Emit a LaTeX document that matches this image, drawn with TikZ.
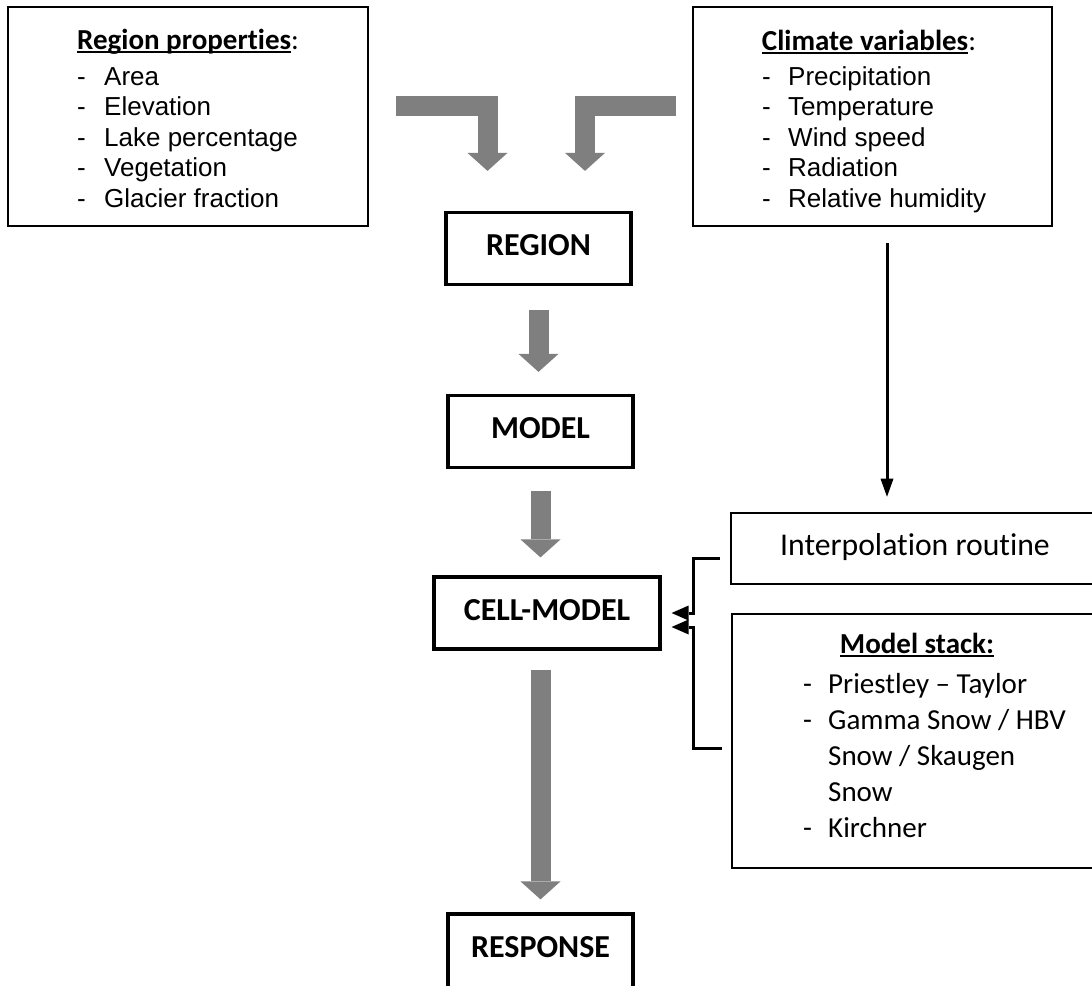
\documentclass[tikz,border=0pt]{standalone}
\usepackage{fontspec}
\setmainfont{Carlito}[Ligatures=NoCommon]
\newfontfamily\arialfont{Liberation Sans}
\usetikzlibrary{arrows.meta,calc}

% underline drawn as a rule under the word
\newcommand\ulword[1]{\setbox0=\hbox{#1}\rlap{\rule[-3.5pt]{\wd0}{2pt}}\box0}

\definecolor{arrowgray}{HTML}{7F7F7F}

\tikzset{
  listbox/.style={draw=black, line width=2pt, minimum width=360pt, minimum height=219pt, inner sep=0pt},
  stagebox/.style={draw=black, line width=3.2pt, minimum width=185pt, inner xsep=0pt, inner ysep=0pt,
    text height=43pt, text depth=29pt, font=\fontsize{32}{38}\selectfont\bfseries},
  sidebox/.style={draw=black, line width=2.6pt, minimum width=368pt, inner xsep=0pt, inner ysep=0pt},
  heading/.style={anchor=base, inner sep=0pt, font=\fontsize{29}{35}\selectfont},
  arialitem/.style={anchor=base west, inner sep=0pt, font=\fontsize{26}{30}\selectfont\arialfont},
  calitem/.style={anchor=base west, inner sep=0pt, font=\fontsize{29}{35}\selectfont},
  blockarrow/.style={draw=arrowgray, line width=20pt, line join=miter, line cap=butt,
    -{Triangle[width=40pt,length=18pt,line width=0pt]}},
  thinarrow/.style={draw=black, line width=3pt, line join=miter,
    -{Triangle[width=15pt,length=17pt,line width=0pt]}}
}

\begin{document}
\begin{tikzpicture}[x=1pt,y=-1pt]
  \path[use as bounding box] (0,0) rectangle (1092,985);
  \fill[white] (0,0) rectangle (1092,985);
  \clip (0,0) rectangle (1092,985);

  % input boxes
  \node[listbox] (props) at (188,116.5) {};
  \node[listbox, minimum width=359pt] (climate) at (872.5,116.5) {};

  \node[heading] (propshead) at (188,49) {\textbf{\ulword{Region properties}}:};
  \foreach \t [count=\i] in {Area, Elevation, Lake percentage, Vegetation, Glacier fraction} {
    \node[arialitem] (pdash\i) at (77, 54.5+30.5*\i) {-};
    \node[arialitem] (pitem\i) at (104, 54.5+30.5*\i) {\t};
  }

  \node[heading] (climhead) at (869,50) {\textbf{\ulword{Climate variables}}:};
  \foreach \t [count=\i] in {Precipitation, Temperature, Wind speed, Radiation, Relative humidity} {
    \node[arialitem] (cdash\i) at (762, 54.5+30.5*\i) {-};
    \node[arialitem] (citem\i) at (788, 54.5+30.5*\i) {\t};
  }

  % model chain
  \node[stagebox] (region) at (538.5,248.5) {REGION};
  \node[stagebox] (model) at (540.5,431.5) {MODEL};
  \node[stagebox, minimum width=226pt] (cell) at (547,613) {CELL-MODEL};
  \node[stagebox, text depth=45pt] (response) at (540.5,958) {RESPONSE};

  % side boxes
  \node[sidebox, text height=42pt, text depth=29pt, font=\fontsize{31.7}{38}\selectfont]
    (interp) at (915,548.5) {Interpolation routine};
  \node[sidebox, minimum height=254pt] (stack) at (916,741) {};

  \node[heading] (stackhead) at (917,653) {\textbf{\ulword{Model stack:}}};
  \node[calitem] (sdash1) at (803,693) {-};
  \node[calitem] (sitem1) at (828,693) {Priestley – Taylor};
  \node[calitem] (sdash2) at (803,729) {-};
  \node[calitem] (sitem2) at (828,729) {Gamma Snow / HBV};
  \node[calitem] (sitem3) at (828,765) {Snow / Skaugen};
  \node[calitem] (sitem4) at (828,801) {Snow};
  \node[calitem] (sdash5) at (803,837) {-};
  \node[calitem] (sitem5) at (828,837) {Kirchner};

  % connector end points
  \coordinate (g1s) at ($(props.east)+(27,-11)$);
  \coordinate (g1e) at ($(region.north)+(-51,-40)$);
  \coordinate (g2s) at ($(climate.west)+(-16,-11)$);
  \coordinate (g2e) at ($(region.north)+(46.5,-40)$);
  \coordinate (a1s) at ($(region.south)+(0,24)$);
  \coordinate (a1e) at ($(region.south |- model.north)+(0,-22)$);
  \coordinate (a2s) at ($(model.south)+(0,22)$);
  \coordinate (a2e) at ($(model.south |- cell.north)+(0,-18)$);
  \coordinate (a3s) at ($(response.north |- cell.south)+(0,19)$);
  \coordinate (a3e) at ($(response.north)+(0,-13)$);
  \coordinate (cs) at ($(climate.south)+(14.5,16)$);
  \coordinate (ce) at ($(interp.north -| cs)+(0,-15)$);
  \coordinate (ib) at ($(interp.west)+(-10,9.5)$);
  \coordinate (sb) at ($(stack.west)+(-9,7)$);
  \coordinate (tip1) at ($(cell.east)+(10,0)$);
  \coordinate (tip2) at ($(cell.east)+(10,14)$);

  % gray flow arrows
  \draw[blockarrow] (g1s) -| (g1e);
  \draw[blockarrow] (g2s) -| (g2e);
  \draw[blockarrow] (a1s) -- (a1e);
  \draw[blockarrow] (a2s) -- (a2e);
  \draw[blockarrow] (a3s) -- (a3e);

  % black connectors
  \draw[thinarrow, -{Triangle[width=13pt,length=18pt,line width=0pt]}] (cs) -- (ce);
  \draw[thinarrow] (ib) -- ++(-26,0) |- (tip1);
  \draw[thinarrow] (sb) -- ++(-28,0) |- (tip2);
\end{tikzpicture}
\end{document}
